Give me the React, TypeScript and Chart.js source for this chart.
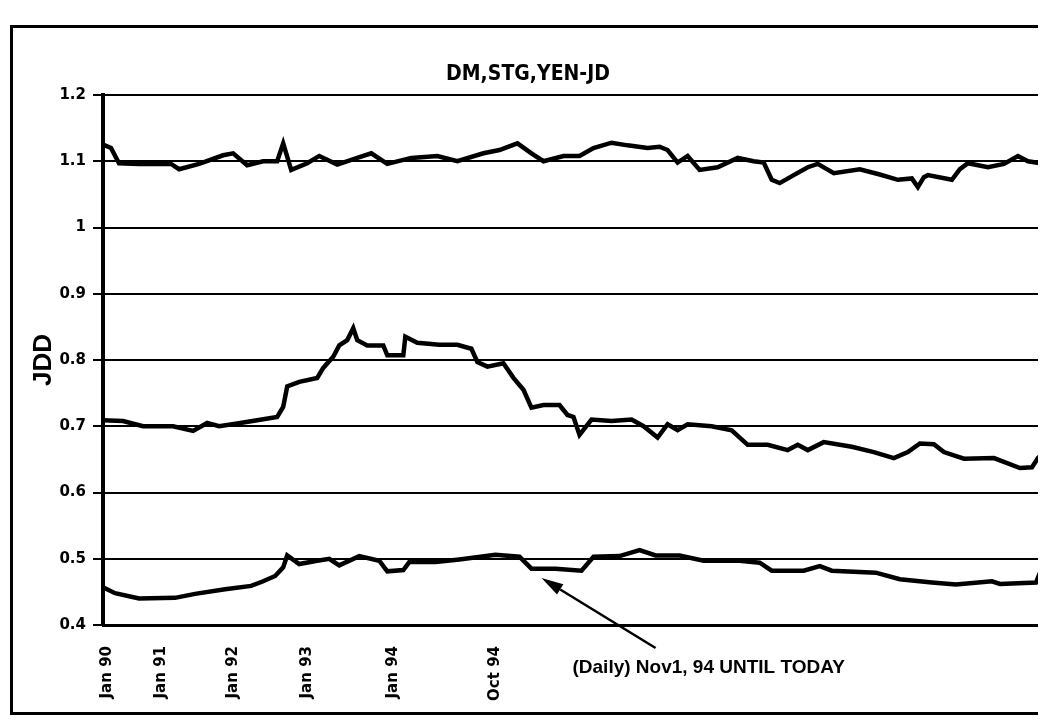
import React, { useEffect, useRef } from "react";
import { Chart, registerables } from "chart.js";

Chart.register(...registerables);

// ---- axis definitions ----
const xTickObs = [2, 29, 65, 102, 145, 196];
const xTickLabels = ["Jan 90", "Jan 91", "Jan 92", "Jan 93", "Jan 94", "Oct 94"];
const xMax = 470;
const yTicks = [0.4, 0.5, 0.6, 0.7, 0.8, 0.9, 1.0, 1.1, 1.2];
const yTickLabels = ["0.4", "0.5", "0.6", "0.7", "0.8", "0.9", "1", "1.1", "1.2"];

// ---- series (observation index, value) ----
const stgObs = [0, 4, 8, 18, 34, 38, 48, 60, 65, 72, 80, 87, 90, 94, 102, 108, 117, 127, 134, 142, 154, 167, 177, 190, 198, 207, 214, 220, 230, 238, 245, 254, 262, 272, 278, 282, 287, 292, 298, 307, 317, 325, 330, 334, 338, 345, 352, 357, 365, 378, 388, 397, 404, 407, 410, 412, 424, 428, 432, 442, 450, 457, 462, 470];
const stgValues = [1.125, 1.12, 1.097, 1.096, 1.096, 1.088, 1.096, 1.109, 1.112, 1.094, 1.1, 1.1, 1.127, 1.087, 1.097, 1.108, 1.095, 1.105, 1.112, 1.096, 1.105, 1.108, 1.1, 1.112, 1.117, 1.127, 1.112, 1.1, 1.108, 1.108, 1.12, 1.128, 1.124, 1.12, 1.122, 1.117, 1.098, 1.108, 1.087, 1.091, 1.105, 1.1, 1.098, 1.072, 1.067, 1.079, 1.091, 1.096, 1.082, 1.088, 1.08, 1.072, 1.074, 1.061, 1.076, 1.079, 1.072, 1.088, 1.097, 1.091, 1.096, 1.108, 1.1, 1.096];

const yenObs = [0, 10, 20, 35, 45, 52, 58, 67, 77, 87, 90, 92, 98, 107, 110, 115, 118, 122, 125, 127, 132, 140, 142, 150, 151, 157, 168, 177, 184, 187, 192, 200, 205, 210, 214, 220, 228, 232, 235, 238, 244, 254, 264, 270, 277, 282, 287, 292, 304, 314, 322, 332, 342, 347, 352, 360, 374, 385, 395, 402, 408, 415, 420, 430, 445, 458, 464, 467, 470];
const yenValues = [0.709, 0.708, 0.7, 0.7, 0.693, 0.705, 0.7, 0.704, 0.709, 0.714, 0.729, 0.76, 0.767, 0.773, 0.788, 0.805, 0.822, 0.83, 0.848, 0.83, 0.822, 0.822, 0.807, 0.807, 0.835, 0.826, 0.823, 0.823, 0.817, 0.797, 0.79, 0.795, 0.773, 0.755, 0.728, 0.732, 0.732, 0.717, 0.714, 0.687, 0.71, 0.708, 0.71, 0.7, 0.683, 0.703, 0.694, 0.703, 0.7, 0.694, 0.672, 0.672, 0.664, 0.672, 0.664, 0.676, 0.669, 0.661, 0.652, 0.661, 0.674, 0.673, 0.661, 0.651, 0.652, 0.637, 0.638, 0.652, 0.661];

const dmObs = [0, 6, 18, 36, 46, 61, 74, 80, 86, 90, 92, 98, 107, 113, 118, 128, 138, 142, 150, 153, 166, 178, 196, 208, 214, 226, 239, 245, 258, 268, 276, 288, 300, 318, 328, 334, 350, 358, 364, 386, 398, 414, 426, 444, 448, 466, 468, 469, 469];
const dmValues = [0.457, 0.448, 0.44, 0.441, 0.447, 0.454, 0.459, 0.466, 0.474, 0.487, 0.505, 0.492, 0.497, 0.5, 0.49, 0.504, 0.497, 0.481, 0.483, 0.495, 0.495, 0.499, 0.506, 0.503, 0.485, 0.485, 0.482, 0.503, 0.504, 0.513, 0.505, 0.505, 0.497, 0.497, 0.494, 0.482, 0.482, 0.489, 0.482, 0.479, 0.469, 0.464, 0.461, 0.466, 0.462, 0.464, 0.479, 0.477, 0.4];

// ---- annotation (in data units) ----
const noteText = "(Daily) Nov1, 94 UNTIL TODAY";
const notePos = [234.5, 0.3358];
const arrowTail = [276, 0.3653];
const arrowTip = [219, 0.471];

const toPoints = (xs: number[], ys: number[]) => xs.map((x, i) => ({ x, y: ys[i] }));

const annotationPlugin = {
  id: "noteArrow",
  afterDraw(chart: any) {
    const { ctx } = chart;
    const xs = chart.scales.x;
    const ys = chart.scales.y;
    const tx = xs.getPixelForValue(arrowTail[0]);
    const ty = ys.getPixelForValue(arrowTail[1]);
    const hx = xs.getPixelForValue(arrowTip[0]);
    const hy = ys.getPixelForValue(arrowTip[1]);
    const ang = Math.atan2(hy - ty, hx - tx);
    const headLen = 22;
    const headW = 6;
    ctx.save();
    ctx.strokeStyle = "#000";
    ctx.fillStyle = "#000";
    ctx.lineWidth = 2.5;
    const bx = hx - Math.cos(ang) * headLen;
    const by = hy - Math.sin(ang) * headLen;
    ctx.beginPath();
    ctx.moveTo(tx, ty);
    ctx.lineTo(bx, by);
    ctx.stroke();
    ctx.beginPath();
    ctx.moveTo(hx, hy);
    ctx.lineTo(bx + Math.sin(ang) * headW, by - Math.cos(ang) * headW);
    ctx.lineTo(bx - Math.sin(ang) * headW, by + Math.cos(ang) * headW);
    ctx.closePath();
    ctx.fill();
    ctx.font = "bold 19px 'Liberation Sans', Arial, sans-serif";
    ctx.textAlign = "left";
    ctx.textBaseline = "middle";
    ctx.fillText(noteText, xs.getPixelForValue(notePos[0]), ys.getPixelForValue(notePos[1]));
    ctx.restore();
  },
};

export default function App() {
  const ref = useRef<HTMLCanvasElement | null>(null);

  useEffect(() => {
    if (!ref.current) return;
    Chart.defaults.color = "#000";
    const lineStyle = {
      borderColor: "#000",
      borderWidth: 4.5,
      pointRadius: 0,
      tension: 0,
      fill: false,
    };
    const chart = new Chart(ref.current, {
      type: "line",
      data: {
        datasets: [
          { label: "STG", data: toPoints(stgObs, stgValues), ...lineStyle },
          { label: "YEN", data: toPoints(yenObs, yenValues), ...lineStyle },
          { label: "DM", data: toPoints(dmObs, dmValues), ...lineStyle },
        ],
      },
      options: {
        animation: false,
        responsive: false,
        layout: { padding: { left: 0, right: 2, top: 0, bottom: 0 } },
        plugins: {
          legend: { display: false },
          tooltip: { enabled: false },
          title: {
            display: true,
            text: "DM,STG,YEN-JD",
            color: "#000",
            font: { family: "'Liberation Sans Narrow', 'DejaVu Sans Condensed', sans-serif", size: 21, weight: "bold" },
            padding: { top: 34.4, bottom: 7.4 },
          },
        },
        scales: {
          x: {
            type: "linear",
            min: 0,
            max: xMax,
            grid: { display: false, drawTicks: false },
            border: { display: true, color: "#000", width: 3 },
            afterBuildTicks: (scale: any) => {
              scale.ticks = xTickObs.map((v) => ({ value: v }));
            },
            afterFit: (scale: any) => {
              scale.height = 88;
            },
            ticks: {
              autoSkip: false,
              minRotation: 90,
              maxRotation: 90,
              padding: 21,
              color: "#000",
              font: { family: "'DejaVu Sans', sans-serif", size: 15, weight: "bold" },
              callback: (v: any) => {
                const i = xTickObs.indexOf(Number(v));
                return i >= 0 ? xTickLabels[i] : "";
              },
            },
          },
          y: {
            type: "linear",
            min: 0.4,
            max: 1.2,
            afterBuildTicks: (scale: any) => {
              scale.ticks = yTicks.map((v) => ({ value: v }));
            },
            afterFit: (scale: any) => {
              scale.width = 91;
            },
            grid: { color: "#000", lineWidth: 2, tickLength: 10, drawTicks: true },
            border: { display: true, color: "#000", width: 4 },
            ticks: {
              padding: 7,
              color: "#000",
              font: { family: "'DejaVu Sans', sans-serif", size: 15, weight: "bold" },
              callback: (v: any) => {
                const i = yTicks.findIndex((t) => Math.abs(t - Number(v)) < 1e-6);
                return i >= 0 ? yTickLabels[i] : "";
              },
            },
            title: {
              display: true,
              text: "JDD",
              color: "#000",
              font: { family: "'Liberation Sans', Arial, sans-serif", size: 26, weight: "bold" },
              padding: { top: 16.4, bottom: 0 },
            },
          },
        },
      },
      plugins: [annotationPlugin],
    } as any);
    return () => chart.destroy();
  }, []);

  return (
    <div style={{ position: "relative", width: 1038, height: 711, overflow: "hidden", background: "#fff" }}>
      <div
        style={{
          position: "absolute",
          left: 2,
          top: 17,
          width: 1100,
          height: 690,
          border: "3px solid #000",
          boxSizing: "border-box",
        }}
      />
      <canvas
        ref={ref}
        width={1034}
        height={685}
        style={{ position: "absolute", left: 4, top: 20, display: "block" }}
      />
    </div>
  );
}
